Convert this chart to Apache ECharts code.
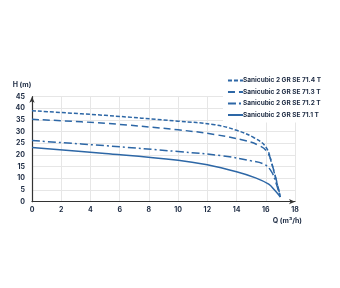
<!DOCTYPE html>
<html>
<head>
<meta charset="utf-8">
<script src="https://cdn.jsdelivr.net/npm/echarts@6/dist/echarts.min.js"></script>
<style>
  html, body { margin: 0; padding: 0; background: #fff; }
  #curve { width: 340px; height: 288px; }
</style>
</head>
<body>
<div id="curve"></div>
<script>
// pump curves: [Q, H]
var names = ['Sanicubic 2 GR SE 71.4 T', 'Sanicubic 2 GR SE 71.3 T', 'Sanicubic 2 GR SE 71.2 T', 'Sanicubic 2 GR SE 71.1 T'];
var curve714 = [[0, 39], [5, 37], [10, 34.5], [12.5, 33], [14, 30.6], [15.2, 27.4], [16, 23.5], [16.4, 16.5], [17, 2]];
var curve713 = [[0, 35.3], [5, 33.6], [10, 30.8], [12.5, 28.8], [14.5, 26.3], [15.5, 24.2], [16.1, 21.3], [16.5, 14.5], [17, 2]];
var curve712 = [[0, 26.2], [5, 24], [10, 21.5], [13, 19.7], [15, 17.5], [15.9, 16], [16.4, 12.8], [16.7, 8], [17, 2]];
var curve711 = [[0, 23.2], [5, 20.7], [10, 17.8], [12, 15.8], [14, 12.8], [15.3, 10.2], [16.2, 7.5], [16.6, 5], [17, 2]];
var xTicks = [0, 18, 2];
var yTicks = [0, 45, 5];

var blue = '#2d67a6';
var ink = '#1c2a42';

var myChart = echarts.init(document.getElementById('curve'));

function line(name, data, dash) {
    return {
        name: name,
        type: 'line',
        data: data,
        smooth: 0.4,
        symbol: 'none',
        lineStyle: { color: blue, width: 1.5, type: dash },
        itemStyle: { color: blue }
    };
}

option = {
    backgroundColor: '#fff',
    animation: false,
    textStyle: { fontFamily: 'Inter, "Noto Sans", sans-serif' },
    legend: {
        orient: 'vertical',
        right: 15,
        top: 73,
        padding: [4, 4, 4, 4],
        backgroundColor: '#fff',
        itemWidth: 15,
        itemHeight: 6,
        itemGap: 4.5,
        itemStyle: { opacity: 0 },
        textStyle: { fontSize: 6.5, fontWeight: 'bold', color: ink, padding: [0, 0, 0, -5] },
        data: names
    },
    grid: { left: 32, right: 45, top: 96.7, bottom: 86.3 },
    xAxis: {
        type: 'value',
        min: xTicks[0], max: xTicks[1], interval: xTicks[2],
        name: 'Q (m³/h)',
        nameGap: 7,
        nameTextStyle: { fontSize: 7, fontWeight: 'bold', color: ink, align: 'right', verticalAlign: 'top', padding: [16, 0, 0, 0] },
        axisLine: { show: true, lineStyle: { color: '#333', width: 1.2 }, symbol: ['none', 'arrow'], symbolSize: [4, 6] },
        axisTick: { show: false },
        axisLabel: { fontSize: 7, fontWeight: 'bold', color: ink, margin: 5 },
        splitLine: { show: true, lineStyle: { color: '#e6e6e6', width: 1 } }
    },
    yAxis: {
        type: 'value',
        min: yTicks[0], max: yTicks[1], interval: yTicks[2],
        name: 'H (m)',
        nameGap: 8,
        nameTextStyle: { fontSize: 7, fontWeight: 'bold', color: ink, align: 'center', padding: [0, 20, 0, 0] },
        axisLine: { show: true, lineStyle: { color: '#333', width: 1.2 }, symbol: ['none', 'arrow'], symbolSize: [4, 6] },
        axisTick: { show: false },
        axisLabel: { fontSize: 7, fontWeight: 'bold', color: ink, margin: 7 },
        splitLine: { show: true, lineStyle: { color: '#e6e6e6', width: 1 } }
    },
    series: [
        line(names[0], curve714, [4, 2]),
        line(names[1], curve713, [7, 4]),
        line(names[2], curve712, [8, 3, 2, 3]),
        line(names[3], curve711, 'solid')
    ]
};

myChart.setOption(option);
</script>
</body>
</html>
